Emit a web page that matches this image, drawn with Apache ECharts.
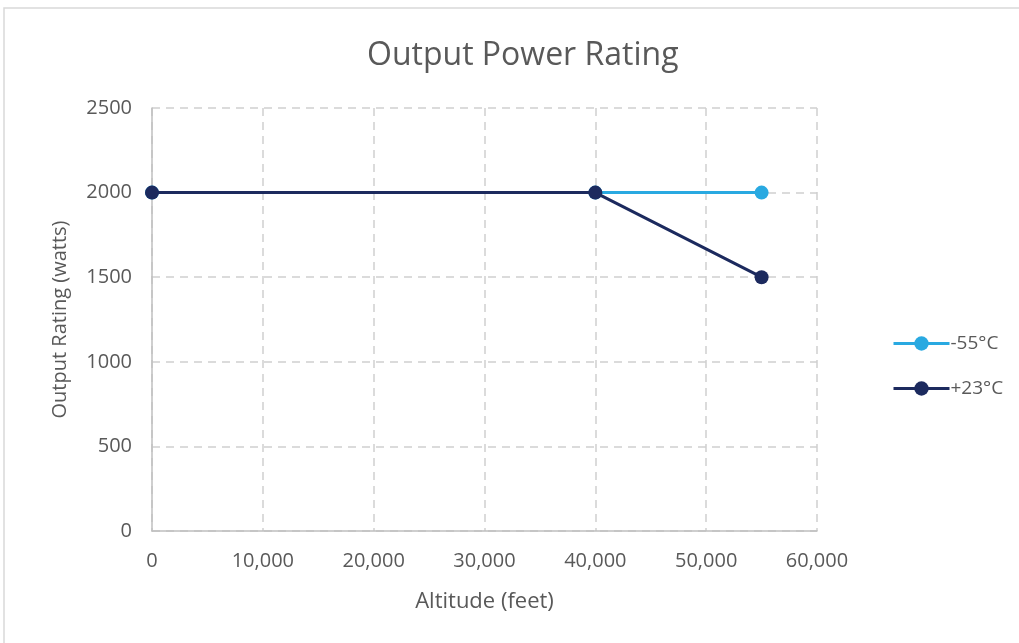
<!DOCTYPE html>
<html>
<head>
<meta charset="utf-8">
<script src="https://cdn.jsdelivr.net/npm/echarts@6/dist/echarts.min.js"></script>
<style>
  html, body { margin: 0; padding: 0; background: #fff; }
  #chart { width: 1019px; height: 643px; }
</style>
</head>
<body>
<div id="chart"></div>
<script>
// altitude in feet
var altitudes = [0, 40000, 55000];
var coldRating = [2000, 2000, 2000];   // -55°C
var roomRating = [2000, 2000, 1500];   // +23°C
var seriesNames = ['-55°C', '+23°C'];

var textColor = '#595959';
var fontFam = '"Open Sans", "Noto Sans", sans-serif';

var myChart = echarts.init(document.getElementById('chart'), null, { renderer: 'canvas' });

function pairs(xs, ys) {
    return xs.map(function (x, i) { return [x, ys[i]]; });
}

var option = {
    backgroundColor: '#fff',
    animation: false,
    textStyle: { fontFamily: fontFam, color: textColor },
    graphic: [{
        type: 'rect',
        shape: { x: 4, y: 8, width: 1030, height: 640 },
        style: { fill: 'none', stroke: '#d9d9d9', lineWidth: 1.5 },
        silent: true
    }],
    title: {
        text: 'Output Power Rating',
        left: 362,
        top: 35,
        textStyle: { fontSize: 32, fontWeight: 'normal', color: textColor, fontFamily: fontFam }
    },
    legend: {
        orient: 'vertical',
        left: 887,
        top: 329,
        itemWidth: 56,
        itemHeight: 18,
        itemGap: 26,
        lineStyle: { width: 3 },
        textStyle: { fontSize: 19, color: textColor, fontFamily: fontFam, padding: [0, 0, 0, -4] },
        data: seriesNames
    },
    grid: { left: 152, right: 202, top: 108, bottom: 112 },
    xAxis: {
        type: 'value',
        min: 0,
        max: 60000,
        interval: 10000,
        name: 'Altitude (feet)',
        nameLocation: 'middle',
        nameGap: 60,
        nameTextStyle: { fontSize: 22, color: textColor, fontFamily: fontFam },
        axisLine: { show: true, lineStyle: { color: '#bfbfbf', width: 1.5 } },
        axisTick: { show: false },
        axisLabel: {
            fontSize: 20, color: textColor, margin: 20, fontFamily: fontFam,
            formatter: function (v) { return v.toLocaleString('en-US'); }
        },
        splitLine: { show: true, lineStyle: { color: '#d0d0d0', type: [8, 6], width: 1.5 } }
    },
    yAxis: {
        type: 'value',
        min: 0,
        max: 2500,
        interval: 500,
        name: 'Output Rating (watts)',
        nameLocation: 'middle',
        nameGap: 82,
        nameTextStyle: { fontSize: 20, color: textColor, fontFamily: fontFam },
        axisLine: { show: true, lineStyle: { color: '#bfbfbf', width: 1.5 } },
        axisTick: { show: false },
        axisLabel: {
            fontSize: 20, color: textColor, margin: 20, fontFamily: fontFam,
            formatter: function (v) { return String(v); }
        },
        splitLine: { show: true, lineStyle: { color: '#d0d0d0', type: [8, 6], width: 1.5 } }
    },
    series: [
        {
            name: seriesNames[0],
            type: 'line',
            data: pairs(altitudes, coldRating),
            symbol: 'circle',
            symbolSize: 14,
            lineStyle: { color: '#29a9e1', width: 3 },
            itemStyle: { color: '#29a9e1' },
            z: 2
        },
        {
            name: seriesNames[1],
            type: 'line',
            data: pairs(altitudes, roomRating),
            symbol: 'circle',
            symbolSize: 14,
            lineStyle: { color: '#1c2a5e', width: 3 },
            itemStyle: { color: '#1c2a5e' },
            z: 3
        }
    ]
};

option && myChart.setOption(option);
</script>
</body>
</html>
